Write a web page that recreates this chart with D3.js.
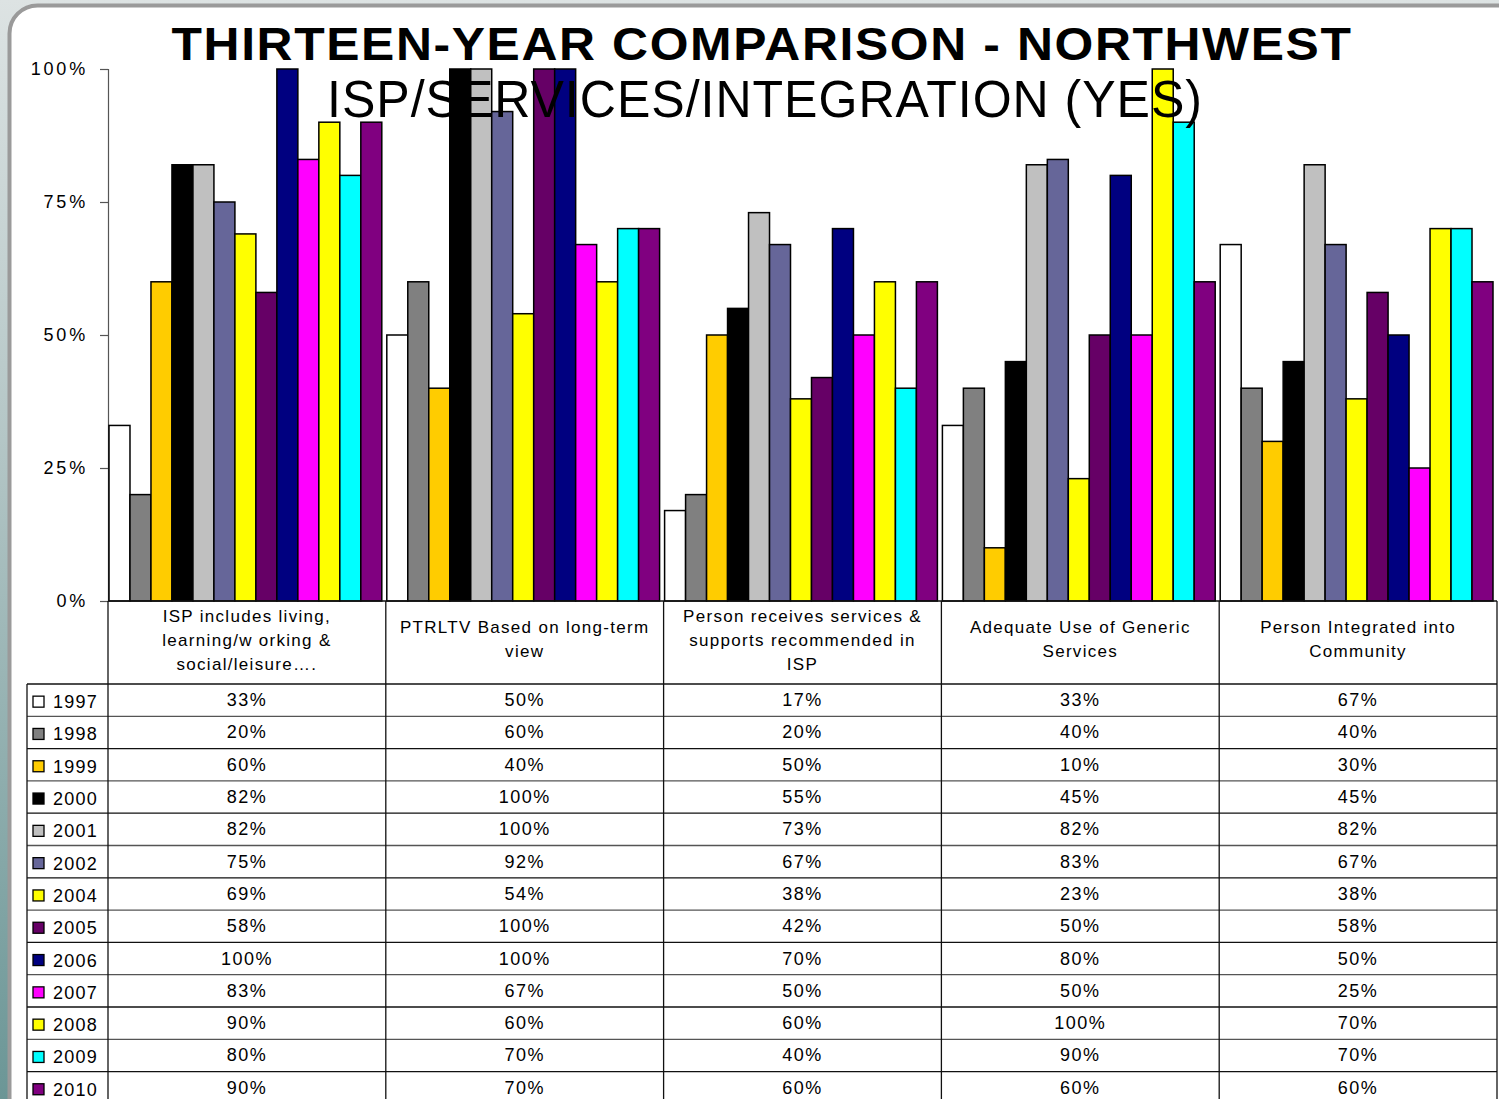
<!DOCTYPE html>
<html><head><meta charset="utf-8">
<script src="https://cdn.jsdelivr.net/npm/d3@7"></script>
<style>body{margin:0;overflow:hidden;background:#fff}text{font-family:"Liberation Sans",Arial,sans-serif}</style>
</head><body><svg id="c" width="1499" height="1099"></svg>
<script>
const categories = [
  ["ISP includes living,", "learning/w orking &", "social/leisure…."],
  ["PTRLTV Based on long-term", "view"],
  ["Person receives services &", "supports recommended in", "ISP"],
  ["Adequate Use of Generic", "Services"],
  ["Person Integrated into", "Community"]
];
const years = ["1997","1998","1999","2000","2001","2002","2004","2005","2006","2007","2008","2009","2010"];
const colors = ["#FFFFFF","#808080","#FFCC00","#000000","#C0C0C0","#666699","#FFFF00","#660066","#000080","#FF00FF","#FFFF00","#00FFFF","#800080"];
const v1997 = [33,50,17,33,67];
const v1998 = [20,60,20,40,40];
const v1999 = [60,40,50,10,30];
const v2000 = [82,100,55,45,45];
const v2001 = [82,100,73,82,82];
const v2002 = [75,92,67,83,67];
const v2004 = [69,54,38,23,38];
const v2005 = [58,100,42,50,58];
const v2006 = [100,100,70,80,50];
const v2007 = [83,67,50,50,25];
const v2008 = [90,60,60,100,70];
const v2009 = [80,70,40,90,70];
const v2010 = [90,70,60,60,60];
const yTicks = [0,25,50,75,100];
const series = [v1997,v1998,v1999,v2000,v2001,v2002,v2004,v2005,v2006,v2007,v2008,v2009,v2010];

const svg = d3.select("#c");
// background
const defs = svg.append("defs");
const lg = defs.append("linearGradient").attr("id","bg").attr("x1",0).attr("y1",0).attr("x2",0).attr("y2",1);
lg.append("stop").attr("offset","0").attr("stop-color","#dde3e3");
lg.append("stop").attr("offset","0.4").attr("stop-color","#b4c6c6");
lg.append("stop").attr("offset","1").attr("stop-color","#6b9696");
svg.append("rect").attr("width",1499).attr("height",1099).attr("fill","url(#bg)");
svg.append("rect").attr("x",9.5).attr("y",5.5).attr("width",1560).attr("height",1120).attr("rx",28)
  .attr("fill","#fff").attr("stroke","#9a9a9a").attr("stroke-width",4);

const x0 = 108, x1 = 1497, yTop = 69, yBot = 601;
const x = d3.scaleBand().domain(d3.range(categories.length)).range([x0,x1]).paddingInner(0).paddingOuter(0);
const xb = d3.scaleBand().domain(d3.range(years.length)).range([1, x.bandwidth()-4]);
const y = d3.scaleLinear().domain([0,100]).range([yBot,yTop]);

// title
svg.append("text").attr("x",762).attr("y",60).attr("text-anchor","middle")
  .attr("font-size",46).attr("font-weight","bold").attr("letter-spacing",1.5)
  .attr("textLength",1181).attr("lengthAdjust","spacingAndGlyphs")
  .text("THIRTEEN-YEAR COMPARISON - NORTHWEST");

// y axis
const yAxis = d3.axisLeft(y).tickValues(yTicks).tickSize(8).tickPadding(12).tickFormat(d=>d+"%");
const ga = svg.append("g").attr("transform",`translate(${x0},0)`).call(yAxis);
ga.select(".domain").attr("stroke","#555").attr("stroke-width",1.2);
ga.selectAll(".tick line").attr("stroke","#555").attr("stroke-width",1.2);
ga.selectAll(".tick text").attr("font-size",18).attr("letter-spacing",2.8).attr("fill","#000")
  .attr("font-family","'Liberation Sans',Arial,sans-serif");

// bars
const g = svg.append("g");
categories.forEach((c,ci)=>{
  series.forEach((s,si)=>{
    g.append("rect").attr("x",x(ci)+xb(si)).attr("y",y(s[ci]))
      .attr("width",xb.bandwidth()).attr("height",y(0)-y(s[ci]))
      .attr("fill",colors[si]).attr("stroke","#000").attr("stroke-width",1.5);
  });
});

// subtitle (drawn over the bars)
svg.append("text").attr("x",765).attr("y",117).attr("text-anchor","middle")
  .attr("font-size",52).attr("letter-spacing",1)
  .attr("textLength",876).attr("lengthAdjust","spacingAndGlyphs")
  .text("ISP/SERVICES/INTEGRATION (YES)");

// table
const hdrBot = 684, rowH = 32.3, legL = 27;
const tl = svg.append("g").attr("stroke","#111").attr("stroke-width",1.3);
tl.append("line").attr("x1",x0).attr("x2",x1).attr("y1",yBot).attr("y2",yBot);
for(let i=0;i<=years.length;i++){
  const yy = hdrBot + i*rowH;
  tl.append("line").attr("x1",legL).attr("x2",x1).attr("y1",yy).attr("y2",yy)
    .attr("stroke", i%2? "#555":"#111");
}
d3.range(categories.length+1).forEach(i=>{
  const xx = i<categories.length ? x(i) : x1;
  tl.append("line").attr("x1",xx).attr("x2",xx).attr("y1",yBot).attr("y2",1099);
});
tl.append("line").attr("x1",legL).attr("x2",legL).attr("y1",hdrBot).attr("y2",1099);

// header labels
categories.forEach((lines,ci)=>{
  const cx = x(ci)+x.bandwidth()/2;
  const startY = lines.length===3 ? 622 : 633;
  lines.forEach((ln,li)=>{
    svg.append("text").attr("x",cx).attr("y",startY+li*24).attr("text-anchor","middle")
      .attr("font-size",17).attr("letter-spacing",1.3).text(ln);
  });
});

// rows
years.forEach((yr,si)=>{
  const cy = hdrBot + si*rowH + rowH/2;
  svg.append("rect").attr("x",33).attr("y",cy-4).attr("width",11).attr("height",11)
    .attr("fill",colors[si]).attr("stroke","#000").attr("stroke-width",1.3);
  svg.append("text").attr("x",53).attr("y",cy+8).attr("font-size",18).attr("letter-spacing",1.2).text(yr);
  categories.forEach((c,ci)=>{
    svg.append("text").attr("x",x(ci)+x.bandwidth()/2).attr("y",cy+6).attr("text-anchor","middle")
      .attr("font-size",18).attr("letter-spacing",1.5).text(series[si][ci]+"%");
  });
});
</script></body></html>
